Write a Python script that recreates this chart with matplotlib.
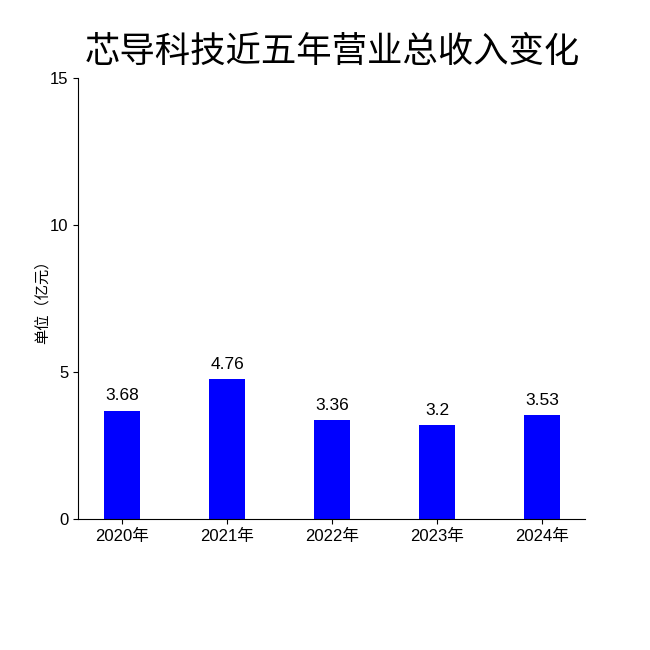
import matplotlib.pyplot as plt

years = ['2020年', '2021年', '2022年', '2023年', '2024年']
revenue = [3.68, 4.76, 3.36, 3.2, 3.53]
yticks = [0, 5, 10, 15]

plt.rcParams['font.family'] = ['Liberation Sans', 'Noto Sans CJK SC', 'DejaVu Sans']

fig = plt.figure(figsize=(6.5, 6.5), dpi=100)
ax = fig.add_axes([0.12, 0.2015, 0.78, 0.6785])

x = list(range(len(years)))
bars = ax.bar(x, revenue, width=0.35, color='#0000ff')
for xi, v in zip(x, revenue):
    ax.text(xi, v + 0.25, f'{v:g}', ha='center', va='bottom', fontsize=12.5)

ax.set_xlim(-0.42, 4.41)
ax.set_ylim(0, 15)
ax.set_xticks(x)
ax.set_xticklabels(years, fontsize=12)
ax.set_yticks(yticks)
ax.tick_params(axis='y', labelsize=12)
ax.set_ylabel('单位（亿元）', fontsize=11, labelpad=0)
ax.spines['top'].set_visible(False)
ax.spines['right'].set_visible(False)

fig.text(0.511, 0.92, '芯导科技近五年营业总收入变化', ha='center', va='center', fontsize=25.5)

fig.savefig('out.png', dpi=100)
